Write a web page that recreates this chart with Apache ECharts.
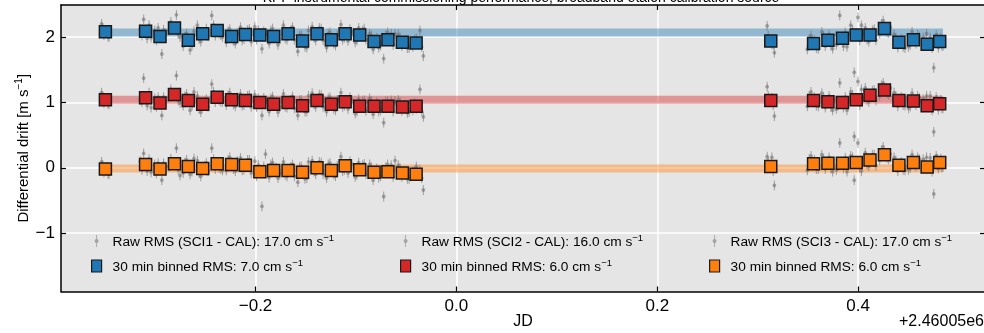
<!DOCTYPE html>
<html>
<head>
<meta charset="utf-8">
<script src="https://cdn.jsdelivr.net/npm/echarts@6/dist/echarts.min.js"></script>
<style>
  html, body { margin: 0; padding: 0; background: #fff; }
  #chart { width: 984px; height: 333px; }
</style>
</head>
<body>
<div id="chart"></div>
<script>
// Exposure times (JD - 2460050), shared by the three science fibres
const rawJD = [
  -0.3533, -0.3510, -0.3482, -0.3459,
  -0.3148, -0.3114, -0.3079, -0.3040,
  -0.3004, -0.2970, -0.2933, -0.2899,
  -0.2861, -0.2825, -0.2788, -0.2752,
  -0.2721, -0.2687, -0.2652, -0.2613,
  -0.2579, -0.2545, -0.2507, -0.2473,
  -0.2436, -0.2401, -0.2363, -0.2329,
  -0.2291, -0.2257, -0.2221, -0.2183,
  -0.2150, -0.2115, -0.2079, -0.2043,
  -0.2007, -0.1972, -0.1936, -0.1901,
  -0.1865, -0.1831, -0.1795, -0.1757,
  -0.1722, -0.1687, -0.1651, -0.1613,
  -0.1579, -0.1545, -0.1508, -0.1473,
  -0.1436, -0.1401, -0.1365, -0.1327,
  -0.1293, -0.1259, -0.1222, -0.1187,
  -0.1150, -0.1115, -0.1079, -0.1041,
  -0.1008, -0.0973, -0.0935, -0.0901,
  -0.0864, -0.0829, -0.0793, -0.0755,
  -0.0724, -0.0685, -0.0649, -0.0611,
  -0.0578, -0.0543, -0.0505, -0.0471,
  -0.0434, -0.0399, -0.0363, -0.0329,
  0.3094, 0.3117, 0.3141, 0.3166,
  0.3494, 0.3531, 0.3565, 0.3603,
  0.3638, 0.3673, 0.3711, 0.3746,
  0.3783, 0.3817, 0.3854, 0.3889,
  0.3926, 0.3961, 0.3998, 0.4033,
  0.4071, 0.4106, 0.4142, 0.4177,
  0.4214, 0.4249, 0.4287, 0.4321,
  0.4358, 0.4395, 0.4429, 0.4466,
  0.4502, 0.4537, 0.4575, 0.4609,
  0.4647, 0.4681, 0.4718, 0.4753,
  0.4777, 0.4799, 0.4822, 0.4845
];
// Interleaved exposures taken between the ones above
const rawJDExtra = [
  -0.3521, -0.3470, -0.3131, -0.3060, -0.2987, -0.2916, -0.2843, -0.2770,
  -0.2704, -0.2632, -0.2562, -0.2490, -0.2418, -0.2346, -0.2274, -0.2202,
  -0.2133, -0.2061, -0.1990, -0.1918, -0.1848, -0.1776, -0.1705, -0.1632,
  -0.1562, -0.1490, -0.1418, -0.1346, -0.1276, -0.1204, -0.1133, -0.1060,
  -0.0990, -0.0918, -0.0846, -0.0774, -0.0704, -0.0630, -0.0560, -0.0488,
  -0.0416, -0.0346,
  0.3105, 0.3154, 0.3512, 0.3584, 0.3656, 0.3728, 0.3800, 0.3872,
  0.3944, 0.4016, 0.4088, 0.4160, 0.4232, 0.4304, 0.4376, 0.4448,
  0.4520, 0.4592, 0.4664, 0.4736, 0.4788, 0.4833
];

// Raw differential drift per exposure [m/s], offset by fibre
const rawSci1 = [
  2.20, 2.03, 2.10, 2.00,  2.12, 2.27, 1.98, 1.99,  2.10, 2.14, 1.74, 2.06,
  2.10, 2.12, 2.34, 2.00,  1.86, 2.05, 1.80, 2.09,  2.18, 1.93, 2.08, 2.01,
  2.33, 2.02, 2.05, 2.00,  1.92, 2.12, 1.94, 2.06,  2.15, 1.97, 2.11, 1.93,
  2.16, 2.10, 1.82, 2.04,  1.90, 2.13, 2.04, 1.97,  2.18, 1.96, 2.10, 1.96,
  1.78, 2.03, 1.85, 2.10,  2.16, 1.95, 2.14, 1.95,  1.84, 2.07, 1.90, 2.03,
  2.19, 1.99, 1.94, 2.08,  1.92, 2.14, 2.10, 1.96,  2.05, 1.81, 1.99, 1.87,
  1.67, 2.07, 2.05, 2.05,  2.04, 1.86, 1.95, 1.83,  1.85, 1.98, 2.10, 1.71,
  2.17, 1.94, 1.89, 1.76,  1.81, 2.02, 1.95, 1.82,  2.08, 1.86, 2.04, 1.82,
  1.88, 2.33, 1.86, 1.85,  2.18, 1.46, 2.30, 2.18,  2.14, 1.93, 2.10, 1.95,
  2.05, 2.25, 2.07, 2.15,  2.04, 1.84, 1.97, 1.83,  1.85, 2.08, 1.90, 2.01,
  1.99, 2.05, 1.99, 1.53,  2.03, 1.84, 1.99, 1.86
];
const rawSci2 = [
  1.15, 0.99, 1.07, 0.97,  1.04, 1.37, 0.95, 0.92,  1.06, 1.08, 0.80, 1.02,
  1.08, 1.10, 1.41, 0.99,  0.95, 1.13, 0.88, 1.16,  1.10, 0.85, 1.00, 0.93,
  1.28, 1.00, 1.03, 1.01,  0.96, 1.15, 0.97, 1.08,  1.13, 0.96, 1.10, 0.93,
  1.12, 1.06, 0.80, 1.02,  0.86, 1.09, 1.00, 0.93,  1.13, 0.92, 1.04, 0.91,
  0.80, 1.04, 0.86, 1.10,  1.14, 0.93, 1.12, 0.93,  0.86, 1.08, 0.90, 1.04,
  1.15, 0.95, 0.90, 1.04,  0.83, 1.05, 1.01, 0.87,  1.06, 0.82, 1.00, 0.88,
  0.69, 1.02, 1.03, 1.02,  1.04, 0.87, 0.96, 0.85,  0.88, 0.90, 1.20, 0.78,
  1.24, 1.02, 1.07, 0.79,  0.94, 1.16, 1.08, 0.94,  1.14, 0.92, 1.10, 0.88,
  0.90, 1.30, 0.92, 0.88,  1.16, 0.48, 1.32, 1.20,  1.22, 1.01, 1.18, 1.03,
  1.10, 1.30, 1.14, 1.22,  1.15, 0.94, 1.08, 0.95,  0.91, 1.14, 0.96, 1.07,
  1.05, 1.10, 1.10, 0.55,  1.08, 0.89, 1.04, 0.91
];
const rawSci3 = [
  0.09, -0.07, 0.01, -0.10,  0.10, 0.22, -0.05, -0.07,  0.05, 0.07, -0.19, 0.00,
  0.02, 0.04, 0.30, -0.12,  -0.08, 0.12, -0.10, 0.14,  0.11, -0.13, 0.03, -0.05,
  0.30, -0.02, 0.00, -0.04,  -0.04, 0.16, -0.02, 0.10,  0.15, -0.03, 0.12, -0.08,
  0.10, 0.04, -0.59, 0.21,  -0.15, 0.08, 0.00, -0.09,  0.09, -0.13, 0.01, -0.13,
  -0.22, 0.02, -0.17, 0.09,  0.11, -0.10, 0.09, -0.10,  -0.16, 0.07, -0.10, 0.03,
  0.17, -0.03, -0.08, 0.06,  -0.14, 0.08, 0.04, -0.10,  0.05, -0.19, -0.01, -0.13,
  -0.44, 0.05, 0.04, 0.11,  0.04, -0.14, -0.05, -0.17,  -0.05, 0.02, -0.03, -0.34,
  0.17, 0.02, 0.16, -0.27,  -0.04, 0.18, 0.12, -0.02,  0.20, -0.02, 0.16, -0.06,
  -0.03, 0.38, -0.01, -0.06,  0.18, -0.19, 0.38, -0.05,  0.23, 0.02, 0.20, 0.03,
  0.12, 0.32, 0.15, 0.21,  0.16, -0.05, 0.09, -0.04,  -0.03, 0.20, 0.02, 0.13,
  0.13, 0.16, 0.15, -0.40,  0.18, -0.01, 0.14, 0.01
];
const rawSci1Extra = [
  2.14, 2.01, 2.02, 2.18, 1.95, 2.11, 2.23, 2.05, 2.01, 1.87, 1.97, 2.13,
  2.18, 2.03, 2.09, 1.90, 1.95, 2.12, 1.96, 2.09, 2.10, 1.88, 1.98, 2.15,
  2.02, 1.84, 1.99, 2.13, 2.05, 1.87, 1.96, 2.12, 1.95, 2.13, 2.02, 1.84,
  2.03, 1.88, 1.99, 1.83, 1.96, 1.85,
  2.02, 1.88, 1.97, 1.83, 2.02, 1.87, 1.93, 2.07, 2.11, 1.95, 1.96, 2.12,
  2.20, 2.06, 1.99, 1.85, 1.88, 2.04, 1.95, 1.83, 1.99, 1.87
];
const rawSci2Extra = [
  1.09, 0.98, 1.00, 1.15, 0.93, 1.08, 1.20, 1.03, 1.09, 0.95, 0.90, 1.05,
  1.16, 1.01, 1.11, 0.94, 0.95, 1.11, 0.93, 1.07, 1.06, 0.85, 0.93, 1.09,
  1.03, 0.86, 0.97, 1.11, 1.06, 0.88, 0.93, 1.08, 0.86, 1.03, 1.02, 0.86,
  1.01, 0.86, 1.00, 0.84, 0.99, 0.87,
  1.10, 0.96, 1.10, 0.95, 1.08, 0.93, 0.95, 1.08, 1.12, 0.96, 1.04, 1.19,
  1.26, 1.12, 1.10, 0.96, 0.94, 1.10, 1.01, 0.88, 1.04, 0.91
];
const rawSci3Extra = [
  0.04, -0.09, -0.03, 0.13, -0.09, 0.07, 0.14, -0.03, 0.08, -0.06, -0.08, 0.07,
  0.13, -0.02, 0.12, -0.05, -0.04, 0.12, -0.13, 0.02, 0.05, -0.16, -0.11, 0.05,
  0.01, -0.16, -0.06, 0.08, 0.05, -0.13, -0.05, 0.10, -0.11, 0.06, 0.01, -0.15,
  0.01, -0.14, -0.01, -0.17, -0.05, -0.16,
  0.09, -0.05, 0.13, -0.02, 0.14, -0.01, 0.02, 0.15, 0.16, 0.00, 0.05, 0.20,
  0.27, 0.13, 0.11, -0.03, 0.00, 0.16, 0.07, -0.06, 0.14, 0.01
];
const rawErr = 0.075;

// Binned drift (bin centres, JD - 2460050)
const binJD = [
  -0.3495, -0.3095, -0.2951, -0.2807, -0.2669, -0.2526, -0.2382, -0.2238,
  -0.2101, -0.1957, -0.1820, -0.1676, -0.1532, -0.1388, -0.1245, -0.1108,
  -0.0963, -0.0820, -0.0682, -0.0538, -0.0401,
  0.3130, 0.3556, 0.3699, 0.3844, 0.3981, 0.4118, 0.4262, 0.4406, 0.4550, 0.4687, 0.4812
];
const binSci1 = [2.08, 2.09, 2.01, 2.14, 1.95, 2.05, 2.10, 2.01, 2.04, 2.03, 2.01, 2.05, 1.94, 2.05, 1.96, 2.05,
  2.03, 1.93, 1.96, 1.92, 1.91, 1.94, 1.90, 1.95, 1.98, 2.03, 2.03, 2.13, 1.92, 1.96, 1.89, 1.93];
const binSci2 = [1.04, 1.07, 0.99, 1.12, 1.03, 0.97, 1.08, 1.04, 1.03, 1.00, 0.97, 1.00, 0.95, 1.03, 0.97, 1.01,
  0.94, 0.94, 0.94, 0.93, 0.94, 1.03, 1.03, 1.01, 1.00, 1.04, 1.11, 1.19, 1.03, 1.02, 0.95, 0.98];
const binSci3 = [-0.02, 0.05, -0.02, 0.06, 0.02, -0.01, 0.06, 0.05, 0.04, -0.06, -0.04, -0.04, -0.07, 0.00, -0.04, 0.03,
  -0.03, -0.07, -0.06, -0.08, -0.10, 0.02, 0.06, 0.07, 0.07, 0.08, 0.12, 0.20, 0.04, 0.08, 0.01, 0.08];

// Mean level of each fibre, drawn across the full time span
const meanLevels = [2.07, 1.04, -0.01];
const bandJD = [-0.3533, 0.4845];

const fibreLabels = ['SCI1', 'SCI2', 'SCI3'];
const rawRms = [17.0, 16.0, 17.0];
const binRms = [7.0, 6.0, 6.0];

const xTicks = [-0.2, 0.0, 0.2, 0.4];
const yTicks = [-1, 0, 1, 2];
const xRange = [-0.3937, 0.5263];
const yRange = [-1.893, 2.49];

const colors = ['#1f77b4', '#d62728', '#ff7f0e'];
const rawColor = 'rgba(110,110,110,0.55)';
const FONT = '"Liberation Sans", Arial, sans-serif';

const allRawJD = rawJD.concat(rawJDExtra);
const rawSeriesData = [rawSci1.concat(rawSci1Extra), rawSci2.concat(rawSci2Extra), rawSci3.concat(rawSci3Extra)];
const binSeriesData = [binSci1, binSci2, binSci3];

const rawNames = fibreLabels.map((f, k) => `Raw RMS (${f} - CAL): ${rawRms[k].toFixed(1)} cm s`);
const binNames = fibreLabels.map((f, k) => `30 min binned RMS: ${binRms[k].toFixed(1)} cm s`);

const minus = v => (v < 0 ? '\u2212' : '') + Math.abs(v);

function rawSeries(k) {
  const ys = rawSeriesData[k];
  return {
    type: 'custom',
    name: rawNames[k],
    silent: true,
    z: 3,
    itemStyle: { color: rawColor },
    data: allRawJD.map((x, i) => [x, ys[i]]),
    encode: { x: 0, y: 1 },
    renderItem(params, api) {
      const x = api.value(0), y = api.value(1);
      const p = api.coord([x, y]);
      const lo = api.coord([x, y - rawErr]);
      const hi = api.coord([x, y + rawErr]);
      return {
        type: 'group',
        children: [
          { type: 'line', shape: { x1: lo[0], y1: lo[1], x2: hi[0], y2: hi[1] },
            style: { stroke: rawColor, lineWidth: 1.1 } },
          { type: 'circle', shape: { cx: p[0], cy: p[1], r: 1.9 },
            style: { fill: rawColor } }
        ]
      };
    }
  };
}

function binSeries(k) {
  const ys = binSeriesData[k];
  return {
    type: 'scatter',
    name: binNames[k],
    silent: true,
    z: 5,
    symbol: 'rect',
    symbolSize: 12,
    itemStyle: { color: colors[k], borderColor: '#1a1a1a', borderWidth: 1.5, opacity: 1 },
    data: binJD.map((x, i) => [x, ys[i]])
  };
}

function bandSeries(k) {
  return {
    type: 'line',
    silent: true,
    z: 2,
    symbol: 'none',
    lineStyle: { color: colors[k], width: 8, opacity: 0.42, cap: 'butt' },
    data: bandJD.map(x => [x, meanLevels[k]])
  };
}

const richText = {
  t: { fontFamily: FONT, fontSize: 13.7, color: '#000', lineHeight: 16, verticalAlign: 'bottom' },
  sp: { width: 6 },
  sup: { fontFamily: FONT, fontSize: 9.5, color: '#000', lineHeight: 16, verticalAlign: 'top' }
};

const legendLeft = [91, 400, 709];
const rawIcon = 'path://M2,0 L3,0 L3,4.6 A2.5,2.5 0 0 1 3,9.4 L3,14 L2,14 L2,9.4 A2.5,2.5 0 0 1 2,4.6 Z';

const legends = [0, 1, 2].map(k => ({
  orient: 'vertical',
  left: legendLeft[k],
  top: 233,
  itemWidth: 10,
  itemHeight: 12,
  itemGap: 9,
  selectedMode: false,
  padding: 0,
  formatter: name => `{sp| }{t|${name}}{sup|\u22121}`,
  textStyle: { rich: richText },
  data: [
    { name: rawNames[k], icon: rawIcon, itemStyle: { color: rawColor, borderWidth: 0 } },
    { name: binNames[k], icon: 'rect', itemStyle: { color: colors[k], borderColor: '#1a1a1a', borderWidth: 1.2 } }
  ]
}));

const axisFont = { fontFamily: FONT, fontSize: 17, color: '#000' };
const tickStyle = { inside: true, length: 5, lineStyle: { color: '#000', width: 1.2 } };
const frameLine = { show: true, onZero: false, lineStyle: { color: '#000', width: 1.5 } };

const chart = echarts.init(document.getElementById('chart'), null, { renderer: 'canvas' });
chart.setOption({
  animation: false,
  backgroundColor: '#ffffff',
  grid: { left: 61, top: 5, width: 924, height: 286.5, show: true, backgroundColor: '#e5e5e5', borderWidth: 0,
    outerBoundsMode: 'none' },
  legend: legends,
  xAxis: [{
    type: 'value', position: 'bottom', min: xRange[0], max: xRange[1],
    axisLine: frameLine,
    axisTick: Object.assign({ customValues: xTicks }, tickStyle),
    axisLabel: Object.assign({ customValues: xTicks, margin: 6, formatter: v => minus(Number(v.toFixed(1))).replace(/^(\u2212?)(\d)$/, '$1$2.0') }, axisFont),
    splitLine: { show: true, lineStyle: { color: '#ffffff', width: 1.5 } },
    name: 'JD', nameLocation: 'middle', nameGap: 22, nameMoveOverlap: false,
    nameTextStyle: Object.assign({}, axisFont, { fontSize: 16 })
  }, {
    type: 'value', position: 'top', min: xRange[0], max: xRange[1],
    axisLine: frameLine,
    axisTick: Object.assign({ customValues: xTicks }, tickStyle),
    axisLabel: { show: false },
    splitLine: { show: false }
  }],
  yAxis: [{
    type: 'value', position: 'left', min: yRange[0], max: yRange[1],
    axisLine: frameLine,
    axisTick: Object.assign({ customValues: yTicks }, tickStyle),
    axisLabel: Object.assign({ customValues: yTicks, margin: 6, formatter: v => minus(v) }, axisFont),
    splitLine: { show: true, lineStyle: { color: '#ffffff', width: 1.5 } },
    name: '{t|Differential drift [m s}{sup|\u22121}{t|]}',
    nameLocation: 'middle', nameGap: 30, nameRotate: 90, nameMoveOverlap: false,
    nameTextStyle: { rich: {
      t: { fontFamily: FONT, fontSize: 15, color: '#000', lineHeight: 17, verticalAlign: 'bottom' },
      sup: { fontFamily: FONT, fontSize: 10, color: '#000', lineHeight: 17, verticalAlign: 'top' }
    } }
  }, {
    type: 'value', position: 'right', min: yRange[0], max: yRange[1],
    axisLine: frameLine,
    axisTick: Object.assign({ customValues: yTicks }, tickStyle),
    axisLabel: { show: false },
    splitLine: { show: false }
  }],
  graphic: [
    { type: 'text', x: 521, y: 5, silent: true,
      style: { text: 'KPF instrumental commissioning performance, broadband etalon calibration source',
        fill: '#000', font: '14px ' + FONT, align: 'center', verticalAlign: 'bottom' } },
    { type: 'text', right: 0, top: 314, silent: true,
      style: { text: '+2.46005e6', fill: '#000', font: '16px ' + FONT } }
  ],
  series: [0, 1, 2].map(bandSeries)
    .concat([0, 1, 2].map(rawSeries))
    .concat([0, 1, 2].map(binSeries))
});
</script>
</body>
</html>
